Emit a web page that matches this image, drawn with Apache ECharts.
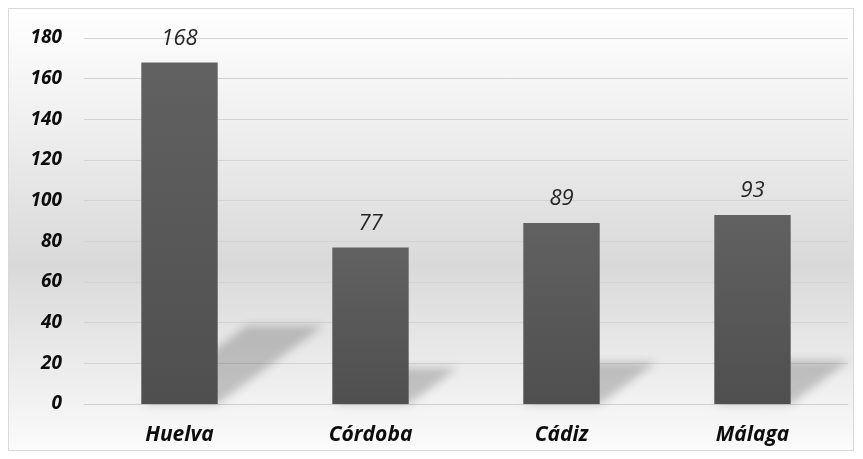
<!DOCTYPE html>
<html>
<head>
<meta charset="utf-8">
<script src="https://cdn.jsdelivr.net/npm/echarts@6/dist/echarts.min.js"></script>
<style>
  html, body { margin: 0; padding: 0; background: #fff; }
  #frame {
    position: absolute; left: 8px; top: 8px; width: 844px; height: 441px;
    border: 1px solid #d9d9d9;
    background: linear-gradient(to bottom, #ffffff 0%, #f0f0f0 25%, #d9d9d9 58%, #ececec 82%, #fbfbfb 100%);
  }
  #main { position: absolute; left: 0; top: 0; width: 863px; height: 459px; }
</style>
</head>
<body>
<div id="frame"></div>
<div id="main"></div>
<script>
var provincias = ['Huelva', 'Córdoba', 'Cádiz', 'Málaga'];
var valores = [168, 77, 89, 93];
var yTicks = [0, 20, 40, 60, 80, 100, 120, 140, 160, 180];

var chart = echarts.init(document.getElementById('main'), null, { renderer: 'canvas' });

// sombra en perspectiva: paralelogramo que sale de la base de la barra hacia arriba a la derecha
// se dibuja fuera de la vista y sólo se ve su sombra difuminada
var OFF = 3000;
function renderSombra(params, api) {
  var i = api.value(0);
  var v = api.value(1);
  var base = api.coord([i, 0]);
  var top = api.coord([i, v]);
  var w = api.size([1, 0])[0] * 0.4;
  var h = base[1] - top[1];
  var left = base[0] - w / 2;
  var right = base[0] + w / 2;
  var dx = h * 0.31, dy = h * 0.23;
  return {
    type: 'polygon',
    shape: {
      points: [
        [left - OFF, base[1]],
        [right - OFF, base[1]],
        [right + dx - OFF, base[1] - dy],
        [left + dx - OFF, base[1] - dy]
      ]
    },
    style: {
      fill: '#000',
      shadowBlur: 9,
      shadowOffsetX: OFF,
      shadowColor: 'rgba(40,40,40,0.24)'
    }
  };
}

var option = {
  animation: false,
  grid: { left: 84, right: 15, top: 38, bottom: 55 },
  xAxis: {
    type: 'category',
    data: provincias,
    axisTick: { show: false },
    axisLine: { lineStyle: { color: '#d0d0d0' } },
    axisLabel: {
      color: '#0d0d0d',
      fontFamily: 'Open Sans',
      fontWeight: 'bold',
      fontStyle: 'italic',
      fontSize: 21,
      margin: 21
    }
  },
  yAxis: {
    type: 'value',
    min: 0,
    max: 180,
    interval: 20,
    axisLine: { show: false },
    axisTick: { show: false },
    splitLine: { lineStyle: { color: '#d3d3d3', width: 1 } },
    axisLabel: {
      color: '#0d0d0d',
      fontFamily: 'Open Sans',
      fontWeight: 'bold',
      fontStyle: 'italic',
      fontSize: 19,
      margin: 22,
      formatter: function (v) { return yTicks.indexOf(v) >= 0 ? String(v) : ''; }
    }
  },
  series: [{
    type: 'custom',
    renderItem: renderSombra,
    data: valores.map(function (v, i) { return [i, v]; }),
    z: 1,
    clip: false,
    silent: true
  }, {
    type: 'bar',
    data: valores,
    barWidth: '40%',
    z: 3,
    itemStyle: {
      color: new echarts.graphic.LinearGradient(0, 0, 0, 1, [
        { offset: 0, color: '#616161' },
        { offset: 1, color: '#4f4f4f' }
      ])
    },
    label: {
      show: true,
      position: 'top',
      distance: 13,
      color: '#262626',
      fontFamily: 'Open Sans',
      fontStyle: 'italic',
      fontSize: 22
    }
  }]
};

chart.setOption(option);
</script>
</body>
</html>
